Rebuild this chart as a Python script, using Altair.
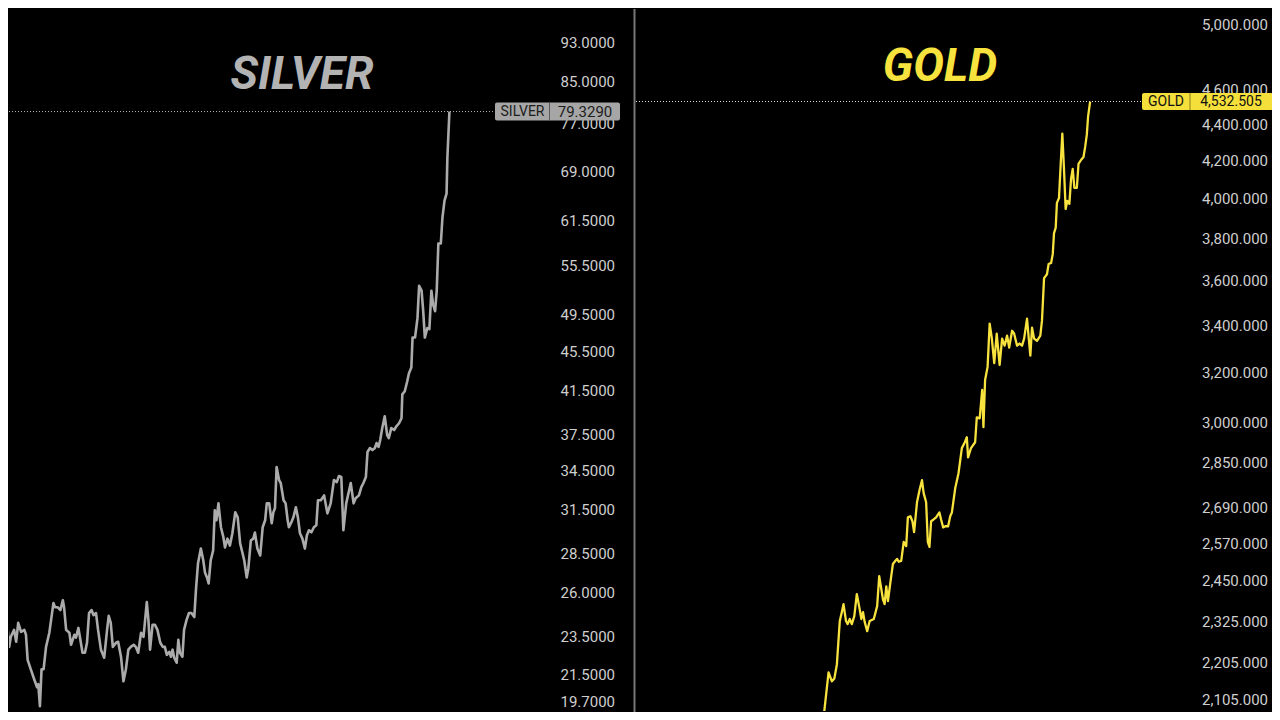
import altair as alt
import pandas as pd

# ---------------- data (days since 2023-01-02, price) ----------------
silver_day = [0, 4, 12, 16, 20, 24, 32, 37, 42, 49, 57, 61, 65, 73, 81, 88, 91, 95, 99, 104,
              110, 118, 128, 132, 138, 145, 151, 154, 159, 167, 171, 179, 183, 189, 195, 199, 205, 210, 215, 221,
              226, 232, 237, 244, 252, 259, 263, 268, 273, 281, 286, 293, 299, 305, 311, 317, 324, 329, 335, 342,
              348, 356, 360, 364, 370, 376, 382, 389, 395, 400, 405, 411, 415, 419, 423, 429, 433, 437, 443, 447,
              453, 459, 465, 472, 476, 481, 488, 494, 498, 503, 507, 512, 518, 522, 526, 531, 537, 543, 547, 553,
              559, 565, 572, 578, 584, 590, 594, 600, 604, 610, 616, 620, 626, 633, 639, 645, 649, 655, 661, 665,
              669, 673, 679, 683, 690, 695, 700, 703, 709, 714, 720, 725, 730, 736, 742, 747, 752, 758, 764, 770,
              774, 781, 789, 797, 805, 813, 820, 825, 831, 836, 843, 854, 861, 866, 874, 880, 885, 891, 895, 901,
              907, 913, 917, 922, 926, 931, 937, 943, 947, 953, 960, 966, 972, 978, 980, 986, 992, 996, 1002, 1005,
              1011, 1017, 1021, 1027, 1031, 1035, 1041, 1046, 1051, 1055, 1060, 1064, 1068, 1074, 1078, 1083, 1088,
              1090, 1095]
silver_price = [22.65, 22.13, 23.88, 23.99, 22.96, 23.50, 23.88, 23.23, 24.27, 23.77, 23.88, 23.61, 22.28, 21.78,
                21.30, 20.91, 21.06, 20.01, 21.80, 21.80, 22.96, 23.72, 25.41, 25.17, 25.17, 25.00, 25.58, 25.17,
                23.88, 23.72, 23.07, 23.61, 23.45, 23.99, 23.18, 22.65, 22.65, 23.18, 24.83, 25.00, 24.71, 24.83,
                23.88, 22.81, 22.39, 23.88, 24.67, 24.27, 22.96, 23.18, 23.23, 22.44, 21.20, 21.80, 22.81, 22.96,
                23.07, 22.96, 22.65, 23.72, 23.50, 25.47, 24.43, 22.81, 24.16, 24.16, 23.88, 23.18, 22.96, 22.96,
                22.54, 22.70, 22.44, 22.81, 22.39, 22.13, 23.34, 22.65, 22.44, 23.88, 24.43, 24.83, 24.83, 24.60,
                26.18, 27.85, 28.83, 28.04, 27.28, 26.96, 26.59, 28.04, 28.70, 31.50, 30.78, 32.01, 30.29, 29.60,
                28.90, 29.50, 29.03, 29.87, 31.35, 30.99, 29.17, 28.50, 28.04, 26.96, 27.53, 29.37, 29.50, 29.92,
                28.83, 28.37, 30.29, 30.78, 32.01, 32.01, 30.57, 31.35, 31.65, 34.82, 33.79, 33.56, 32.24, 32.01,
                30.78, 30.29, 30.64, 30.99, 31.72, 30.99, 29.87, 29.50, 28.83, 29.73, 30.08, 29.94, 30.29, 30.43,
                32.24, 32.24, 32.61, 31.28, 32.01, 33.79, 33.63, 34.10, 34.03, 30.08, 32.01, 33.56, 32.01, 32.39,
                32.61, 33.25, 33.56, 34.03, 36.06, 36.39, 36.22, 36.39, 36.81, 36.48, 37.07, 38.11, 39.17, 37.50,
                37.24, 38.11, 37.94, 38.29, 38.54, 38.99, 41.21, 41.50, 42.47, 43.25, 43.85, 47.00, 47.00, 49.16,
                52.99, 52.39, 49.96, 47.00, 48.04, 47.93, 52.39, 50.77, 49.96, 52.39, 58.45, 58.45, 62.07, 64.53,
                65.58, 71.27, 79.329]

gold_day = [349, 361, 369, 373, 377, 385, 395, 401, 412, 426, 440, 453,
            465, 473, 479, 485, 492, 497, 501, 507, 511, 516, 521, 527,
            533, 539, 544, 548, 552, 558, 564, 574, 582, 587, 591, 596,
            600, 604, 608, 614, 620, 626, 630, 634, 640, 646, 652, 656,
            662, 667, 671, 678, 684, 690, 694, 700, 704, 708, 712, 718,
            724, 732, 736, 741, 746, 753, 758, 762, 770, 778, 786, 792,
            798, 801, 808, 818, 822, 829, 835, 838, 842, 848, 853, 858,
            864, 870, 877, 883, 889, 895, 900, 907, 912, 919, 925, 931,
            936, 943, 947, 951, 955, 960, 967, 975, 979, 984, 991, 995,
            1001, 1005, 1008, 1012, 1015, 1020, 1024, 1028, 1032, 1036, 1040, 1045,
            1049, 1053, 1057, 1063, 1067, 1073, 1079, 1083, 1087, 1090, 1095]
gold_price = [2015, 2049, 2060, 2068, 2054, 2057, 2062, 2054, 2034, 2026, 2036, 2057,
              2180, 2155, 2163, 2202, 2328, 2355, 2379, 2328, 2319, 2334, 2319, 2343,
              2410, 2370, 2334, 2355, 2325, 2298, 2328, 2334, 2373, 2466, 2434, 2394,
              2379, 2434, 2388, 2447, 2505, 2515, 2521, 2512, 2515, 2577, 2563, 2659,
              2663, 2646, 2609, 2711, 2753, 2789, 2743, 2711, 2577, 2560, 2646, 2652,
              2659, 2676, 2652, 2625, 2629, 2629, 2663, 2676, 2760, 2814, 2906, 2924,
              2947, 2872, 2906, 2928, 3023, 3019, 3131, 2985, 3171, 3225, 3409, 3348,
              3241, 3365, 3233, 3344, 3314, 3357, 3306, 3378, 3365, 3314, 3323, 3314,
              3344, 3431, 3348, 3272, 3391, 3344, 3335, 3357, 3422, 3614, 3632, 3680,
              3685, 3728, 3829, 3854, 3980, 4005, 4179, 4350, 4157, 3949, 3990, 3975,
              4104, 4157, 4057, 4057, 4184, 4205, 4221, 4276, 4344, 4445, 4532.505]

silver_ticks = [93, 85, 77, 69, 61.5, 55.5, 49.5, 45.5, 41.5, 37.5, 34.5, 31.5, 28.5, 26, 23.5, 21.5]
silver_bottom_tick = [19.7]
gold_ticks = [5000, 4600, 4400, 4200, 4000, 3800, 3600, 3400, 3200, 3000, 2850, 2690, 2570, 2450, 2325, 2205, 2105]

silver_last = 79.329
gold_last = 4532.505
titles = ["SILVER", "GOLD"]

# ---------------- frames ----------------
silver_df = pd.DataFrame([{"day": d, "price": p} for d, p in zip(silver_day, silver_price)])
gold_df = pd.DataFrame([{"day": d, "price": p} for d, p in zip(gold_day, gold_price)])
silver_tick_df = pd.DataFrame({"v": silver_ticks})
silver_bottom_df = pd.DataFrame({"v": silver_bottom_tick})
gold_tick_df = pd.DataFrame({"v": gold_ticks})
silver_last_df = pd.DataFrame({"p": [silver_last]})
gold_last_df = pd.DataFrame({"p": [gold_last]})

W, H = 1264, 704

sx = alt.Scale(domain=[19.52, 3103.68], nice=False, zero=False)
sy = alt.Scale(type="log", domain=[19.79, 100.6], nice=False)
gx = alt.Scale(domain=[-1508.9, 1533.0], nice=False, zero=False)
gy = alt.Scale(type="log", domain=[2074.4, 5103.4], nice=False)

SILVER = "#ababab"
GOLD = "#f7e23e"
LABEL = "#cfcfcf"

layers = []

# separator
layers.append(
    alt.Chart(silver_last_df).mark_rule(color="#777777", strokeWidth=2).encode(
        x=alt.value(625.5), y=alt.value(0), y2=alt.value(H)
    )
)

# axis labels (as text through the scales)
layers.append(
    alt.Chart(silver_tick_df).mark_text(align="right", baseline="middle", font="Roboto",
                                        fontSize=15, color=LABEL, clip=True).encode(
        x=alt.value(606),
        y=alt.Y("v:Q", scale=sy, axis=None),
        text=alt.Text("v:Q", format=".4f"),
    )
)
layers.append(
    alt.Chart(silver_bottom_df).mark_text(align="right", baseline="bottom", font="Roboto",
                                          fontSize=15, color=LABEL, dy=-3, clip=True).encode(
        x=alt.value(606),
        y=alt.Y("v:Q", scale=sy, axis=None),
        text=alt.Text("v:Q", format=".4f"),
    )
)
layers.append(
    alt.Chart(gold_tick_df).mark_text(align="right", baseline="middle", font="Roboto",
                                      fontSize=15, color=LABEL, clip=True).encode(
        x=alt.value(1259),
        y=alt.Y("v:Q", scale=gy, axis=None),
        text=alt.Text("v:Q", format=",.3f"),
    )
)

# lines
layers.append(
    alt.Chart(silver_df).mark_line(color=SILVER, strokeWidth=2.6, clip=True, strokeJoin="round").encode(
        x=alt.X("day:Q", scale=sx, axis=None),
        y=alt.Y("price:Q", scale=sy, axis=None),
    )
)
layers.append(
    alt.Chart(gold_df).mark_line(color=GOLD, strokeWidth=2.3, clip=True, strokeJoin="round").encode(
        x=alt.X("day:Q", scale=gx, axis=None),
        y=alt.Y("price:Q", scale=gy, axis=None),
    )
)

# last-price dotted lines
layers.append(
    alt.Chart(silver_last_df).mark_rule(color="#b5b5b5", strokeDash=[1, 2], strokeWidth=1).encode(
        x=alt.value(0), x2=alt.value(486), y=alt.Y("p:Q", scale=sy, axis=None)
    )
)
layers.append(
    alt.Chart(gold_last_df).mark_rule(color="#dddddd", strokeDash=[1, 2], strokeWidth=1).encode(
        x=alt.value(627), x2=alt.value(1133), y=alt.Y("p:Q", scale=gy, axis=None)
    )
)

# price tags
layers.append(
    alt.Chart(silver_last_df).mark_rect(color="#a6a6a6", yOffset=-9, y2Offset=9, cornerRadius=2).encode(
        x=alt.value(486), x2=alt.value(611),
        y=alt.Y("p:Q", scale=sy, axis=None), y2="p:Q"
    )
)
layers.append(
    alt.Chart(silver_last_df).mark_rule(color="#5a5a5a", strokeWidth=1, yOffset=-9, y2Offset=9).encode(
        x=alt.value(540.5), y=alt.Y("p:Q", scale=sy, axis=None), y2="p:Q"
    )
)
layers.append(
    alt.Chart(silver_last_df).mark_text(color="#1c1c1c", font="Roboto", fontSize=14,
                                        align="center", baseline="middle").encode(
        x=alt.value(513.5), y=alt.Y("p:Q", scale=sy, axis=None), text=alt.value("SILVER")
    )
)
layers.append(
    alt.Chart(silver_last_df).mark_text(color="#1c1c1c", font="Roboto", fontSize=15,
                                        align="center", baseline="middle").encode(
        x=alt.value(576), y=alt.Y("p:Q", scale=sy, axis=None),
        text=alt.Text("p:Q", format=".4f")
    )
)

layers.append(
    alt.Chart(gold_last_df).mark_rect(color="#f5df3a", yOffset=-8.5, y2Offset=8.5, cornerRadius=2).encode(
        x=alt.value(1133), x2=alt.value(1264),
        y=alt.Y("p:Q", scale=gy, axis=None), y2="p:Q"
    )
)
layers.append(
    alt.Chart(gold_last_df).mark_rule(color="#8a7d1e", strokeWidth=1, yOffset=-8.5, y2Offset=8.5).encode(
        x=alt.value(1181), y=alt.Y("p:Q", scale=gy, axis=None), y2="p:Q"
    )
)
layers.append(
    alt.Chart(gold_last_df).mark_text(color="#111111", font="Roboto", fontSize=14,
                                      align="center", baseline="middle").encode(
        x=alt.value(1157), y=alt.Y("p:Q", scale=gy, axis=None), text=alt.value("GOLD")
    )
)
layers.append(
    alt.Chart(gold_last_df).mark_text(color="#111111", font="Roboto", fontSize=14,
                                      align="center", baseline="middle").encode(
        x=alt.value(1222), y=alt.Y("p:Q", scale=gy, axis=None),
        text=alt.Text("p:Q", format=",.3f")
    )
)

# titles
layers.append(
    alt.Chart(silver_last_df).mark_text(font="Roboto", fontWeight="bold", fontStyle="italic", fontSize=46,
                                        color="#b3b3b3", align="center", baseline="alphabetic").encode(
        x=alt.value(293), y=alt.value(80), text=alt.value(titles[0])
    )
)
layers.append(
    alt.Chart(gold_last_df).mark_text(font="Roboto", fontWeight="bold", fontStyle="italic", fontSize=46,
                                      color=GOLD, align="center", baseline="alphabetic").encode(
        x=alt.value(931), y=alt.value(72), text=alt.value(titles[1])
    )
)

chart = alt.layer(*layers).resolve_scale(
    x="independent", y="independent"
).properties(
    width=W, height=H, padding=0, background="black",
    autosize=alt.AutoSizeParams(type="fit", contains="padding"),
).configure_view(stroke=None)

chart.save("out.html", embed_options={"renderer": "svg", "actions": False})
